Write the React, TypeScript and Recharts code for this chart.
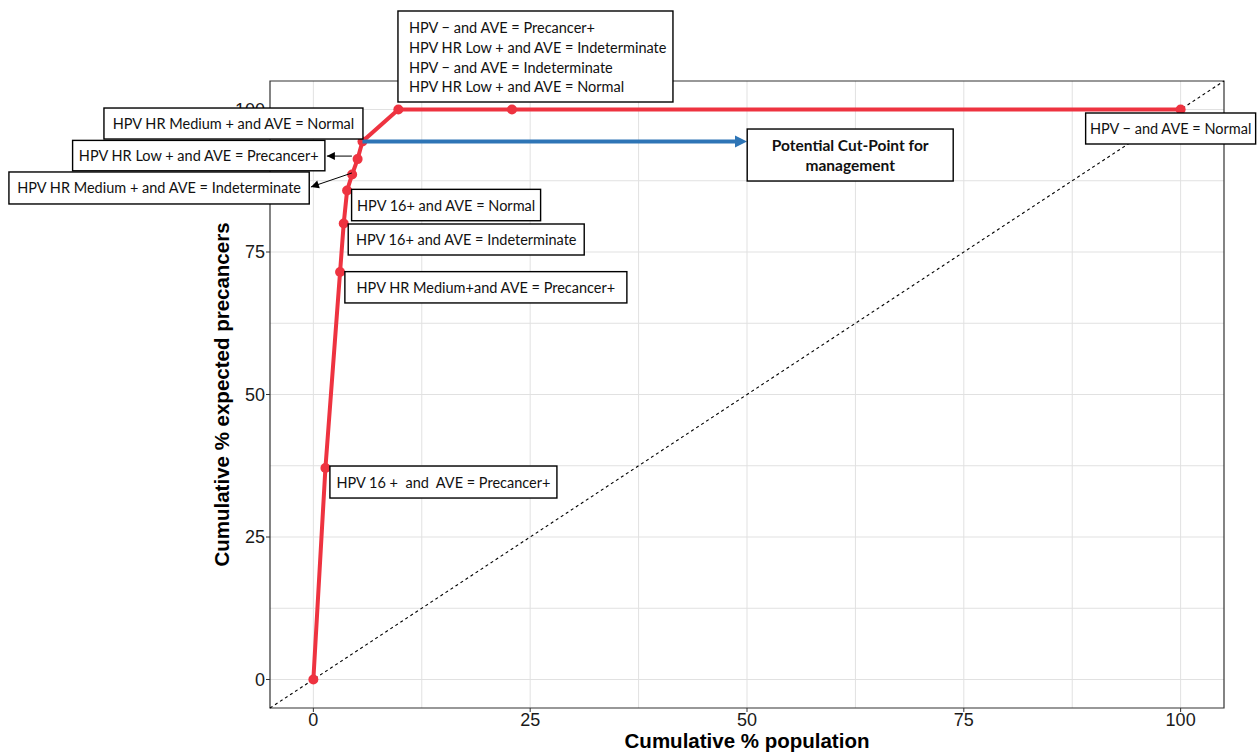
import React from 'react';
import {
  ComposedChart,
  Line,
  XAxis,
  YAxis,
  CartesianGrid,
  ReferenceLine,
  ReferenceDot,
  ReferenceArea,
} from 'recharts';

// ---- data ----
const pointX = [0, 1.39, 3.08, 3.5, 3.89, 4.47, 5.1, 5.66, 9.8, 22.9, 100];
const pointY = [0, 37.1, 71.5, 80, 85.8, 88.6, 91.3, 94.4, 100, 100, 100];
const xTicks = [0, 25, 50, 75, 100];
const yTicks = [0, 25, 50, 75, 100];
const gridValues = [0, 12.5, 25, 37.5, 50, 62.5, 75, 87.5, 100];
const axisDomain = [-5, 105];

const labelTexts: string[][] = [
  ['HPV 16 +  and  AVE = Precancer+'],
  ['HPV HR Medium+and AVE = Precancer+'],
  ['HPV 16+ and AVE = Indeterminate'],
  ['HPV 16+ and AVE = Normal'],
  ['HPV HR Medium + and AVE = Indeterminate'],
  ['HPV HR Low + and AVE = Precancer+'],
  ['HPV HR Medium + and AVE = Normal'],
  [
    'HPV \u2212 and AVE = Precancer+',
    'HPV HR Low + and AVE = Indeterminate',
    'HPV \u2212 and AVE = Indeterminate',
    'HPV HR Low + and AVE = Normal',
  ],
  ['HPV \u2212 and AVE = Normal'],
];
const labelAnchor = [1, 2, 3, 4, 5, 6, 7, 8, 10];

const cutPointText = ['Potential Cut-Point for', 'management'];
const cutPointFromIndex = 7;
const cutPointToX = 50;

const xTitle = 'Cumulative % population';
const yTitle = 'Cumulative % expected precancers';

// ---- layout / styles (pixel offsets relative to the anchored point) ----
type BoxLayout = {
  dx: number;
  dy: number;
  w: number;
  h: number;
  align?: 'left' | 'center';
  arrow?: [number, number, number, number];
};
const boxLayout: BoxLayout[] = [
  { dx: 4.5, dy: -2, w: 227, h: 32 },
  { dx: 4.8, dy: -0.3, w: 282, h: 31.3 },
  { dx: 4.5, dy: 0.5, w: 236, h: 31 },
  { dx: 4.5, dy: -1.1, w: 189, h: 31.4 },
  { dx: -343.2, dy: -2.5, w: 300.3, h: 32, arrow: [-0.2, -1.5, -41.2, 12.5] },
  { dx: -285, dy: -18.7, w: 252.3, h: 30.4, arrow: [-5.7, -3, -30.7, -3] },
  { dx: -258.5, dy: -33.4, w: 259, h: 31 },
  { dx: -0.4, dy: -98.5, w: 275, h: 91, align: 'left' },
  { dx: -95, dy: 3.5, w: 170, h: 31 },
];
const cutLayout = { dx: 0.2, dy: -12.4, w: 206, h: 52 };

const RED = '#EE3340';
const BLUE = '#2E75B6';
const BOX_FONT = 'Lato, "Noto Sans", sans-serif';
const BOX_FONT_SIZE = 14.5;
const CUT_FONT_SIZE = 15.5;
const AXIS_FONT = '"Liberation Sans", Arial, sans-serif';
const TOP_Z = 3000;

const data = pointX.map((x, i) => ({ x, y: pointY[i] }));

function ArrowHead({ x1, y1, x2, y2, size, half, fill }: any) {
  const ang = Math.atan2(y2 - y1, x2 - x1);
  const bx = x2 - size * Math.cos(ang);
  const by = y2 - size * Math.sin(ang);
  const px = -Math.sin(ang) * half;
  const py = Math.cos(ang) * half;
  return (
    <polygon
      points={`${x2},${y2} ${bx + px},${by + py} ${bx - px},${by - py}`}
      fill={fill}
    />
  );
}

function makeBox(lines: string[], lay: BoxLayout) {
  return (props: any) => {
    const { cx, cy } = props;
    if (cx == null || cy == null) return <g />;
    const left = cx + lay.dx;
    const top = cy + lay.dy;
    const lineH = 19.67;
    return (
      <g>
        {lay.arrow && (
          <g>
            <line
              x1={cx + lay.arrow[0]}
              y1={cy + lay.arrow[1]}
              x2={cx + lay.arrow[2]}
              y2={cy + lay.arrow[3]}
              stroke="#000"
              strokeWidth={1}
            />
            <ArrowHead
              x1={cx + lay.arrow[0]}
              y1={cy + lay.arrow[1]}
              x2={cx + lay.arrow[2]}
              y2={cy + lay.arrow[3]}
              size={8}
              half={4}
              fill="#000"
            />
          </g>
        )}
        <rect
          x={left}
          y={top}
          width={lay.w}
          height={lay.h}
          fill="#fff"
          stroke="#000"
          strokeWidth={1.4}
        />
        {lines.map((t, i) => (
          <text
            key={i}
            x={lay.align === 'left' ? left + 11 : left + lay.w / 2}
            y={lines.length > 1 ? top + 16.7 + i * lineH : top + lay.h / 2}
            textAnchor={lay.align === 'left' ? 'start' : 'middle'}
            dominantBaseline="central"
            fontFamily={BOX_FONT}
            fontSize={BOX_FONT_SIZE}
            fill="#111"
            style={{ whiteSpace: 'pre' }}
          >
            {t}
          </text>
        ))}
      </g>
    );
  };
}

function CutBox(props: any) {
  const { cx, cy } = props;
  if (cx == null || cy == null) return <g />;
  const left = cx + cutLayout.dx;
  const top = cy + cutLayout.dy;
  return (
    <g>
      <rect
        x={left}
        y={top}
        width={cutLayout.w}
        height={cutLayout.h}
        fill="#fff"
        stroke="#000"
        strokeWidth={1.4}
      />
      {cutPointText.map((t, i) => (
        <text
          key={i}
          x={left + cutLayout.w / 2}
          y={top + 16 + i * 19.5}
          textAnchor="middle"
          dominantBaseline="central"
          fontFamily={BOX_FONT}
          fontWeight="bold"
          fontSize={CUT_FONT_SIZE}
          fill="#111"
        >
          {t}
        </text>
      ))}
    </g>
  );
}

function BlueArrow(props: any) {
  const { x1, y1, x2, y2 } = props;
  if (x1 == null) return <g />;
  return (
    <g>
      <line x1={x1} y1={y1} x2={x2 - 10} y2={y2} stroke={BLUE} strokeWidth={4} />
      <ArrowHead x1={x1} y1={y1} x2={x2} y2={y2} size={12} half={6} fill={BLUE} />
    </g>
  );
}

function Diagonal(props: any) {
  const { x1, y1, x2, y2 } = props;
  if (x1 == null) return <g />;
  return (
    <line
      x1={x1}
      y1={y1}
      x2={x2}
      y2={y2}
      stroke="#000"
      strokeWidth={1.1}
      strokeDasharray="3 3"
    />
  );
}

const XTitle = (props: any) => {
  const vb = props.viewBox || {};
  return (
    <text
      x={vb.x + vb.width / 2}
      y={748}
      textAnchor="middle"
      fontFamily={AXIS_FONT}
      fontWeight="bold"
      fontSize={20.5}
      fill="#000"
    >
      {xTitle}
    </text>
  );
};

const YTitle = (props: any) => {
  const vb = props.viewBox || {};
  const cy = vb.y + vb.height / 2;
  return (
    <text
      x={229}
      y={cy}
      transform={`rotate(-90 229 ${cy})`}
      textAnchor="middle"
      fontFamily={AXIS_FONT}
      fontWeight="bold"
      fontSize={20.5}
      fill="#000"
    >
      {yTitle}
    </text>
  );
};

export default function App() {
  return (
    <div style={{ position: 'absolute', left: 0, top: 0, background: '#fff' }}>
      <ComposedChart
        width={1257}
        height={754}
        data={data}
        margin={{ top: 81, right: 33, bottom: 0, left: 0 }}
      >
        <CartesianGrid
          stroke="#e1e1e1"
          strokeWidth={1}
          horizontalValues={gridValues}
          verticalValues={gridValues}
        />
        <XAxis
          dataKey="x"
          type="number"
          domain={axisDomain}
          ticks={xTicks}
          allowDataOverflow
          height={46}
          axisLine={false}
          tickLine={{ stroke: '#333' }}
          tickSize={4}
          tickMargin={1}
          tick={{ fontFamily: AXIS_FONT, fontSize: 18, fill: '#1a1a1a' }}
          label={<XTitle />}
        />
        <YAxis
          dataKey="y"
          type="number"
          domain={axisDomain}
          ticks={yTicks}
          allowDataOverflow
          width={270}
          axisLine={false}
          tickLine={{ stroke: '#333' }}
          tickSize={4}
          tickMargin={1}
          tick={{ fontFamily: AXIS_FONT, fontSize: 18, fill: '#1a1a1a' }}
          label={<YTitle />}
        />
        <ReferenceArea
          x1={axisDomain[0]}
          x2={axisDomain[1]}
          y1={axisDomain[0]}
          y2={axisDomain[1]}
          fill="none"
          stroke="#333"
          strokeWidth={1.2}
          ifOverflow="extendDomain"
        />
        <ReferenceLine
          segment={[
            { x: axisDomain[0], y: axisDomain[0] },
            { x: axisDomain[1], y: axisDomain[1] },
          ]}
          shape={<Diagonal />}
        />
        <Line
          dataKey="y"
          type="linear"
          stroke={RED}
          strokeWidth={4}
          dot={{ r: 5, fill: RED, stroke: RED, strokeWidth: 0 }}
          isAnimationActive={false}
        />
        <ReferenceLine
          segment={[
            { x: pointX[cutPointFromIndex], y: pointY[cutPointFromIndex] },
            { x: cutPointToX, y: pointY[cutPointFromIndex] },
          ]}
          shape={<BlueArrow />}
          {...({ zIndex: TOP_Z } as any)}
        />
        {labelTexts.map((lines, i) => (
          <ReferenceDot
            key={i}
            x={pointX[labelAnchor[i]]}
            y={pointY[labelAnchor[i]]}
            r={0}
            shape={makeBox(lines, boxLayout[i])}
            {...({ zIndex: TOP_Z } as any)}
          />
        ))}
        <ReferenceDot
          x={cutPointToX}
          y={pointY[cutPointFromIndex]}
          r={0}
          shape={CutBox}
          {...({ zIndex: TOP_Z } as any)}
        />
      </ComposedChart>
    </div>
  );
}
